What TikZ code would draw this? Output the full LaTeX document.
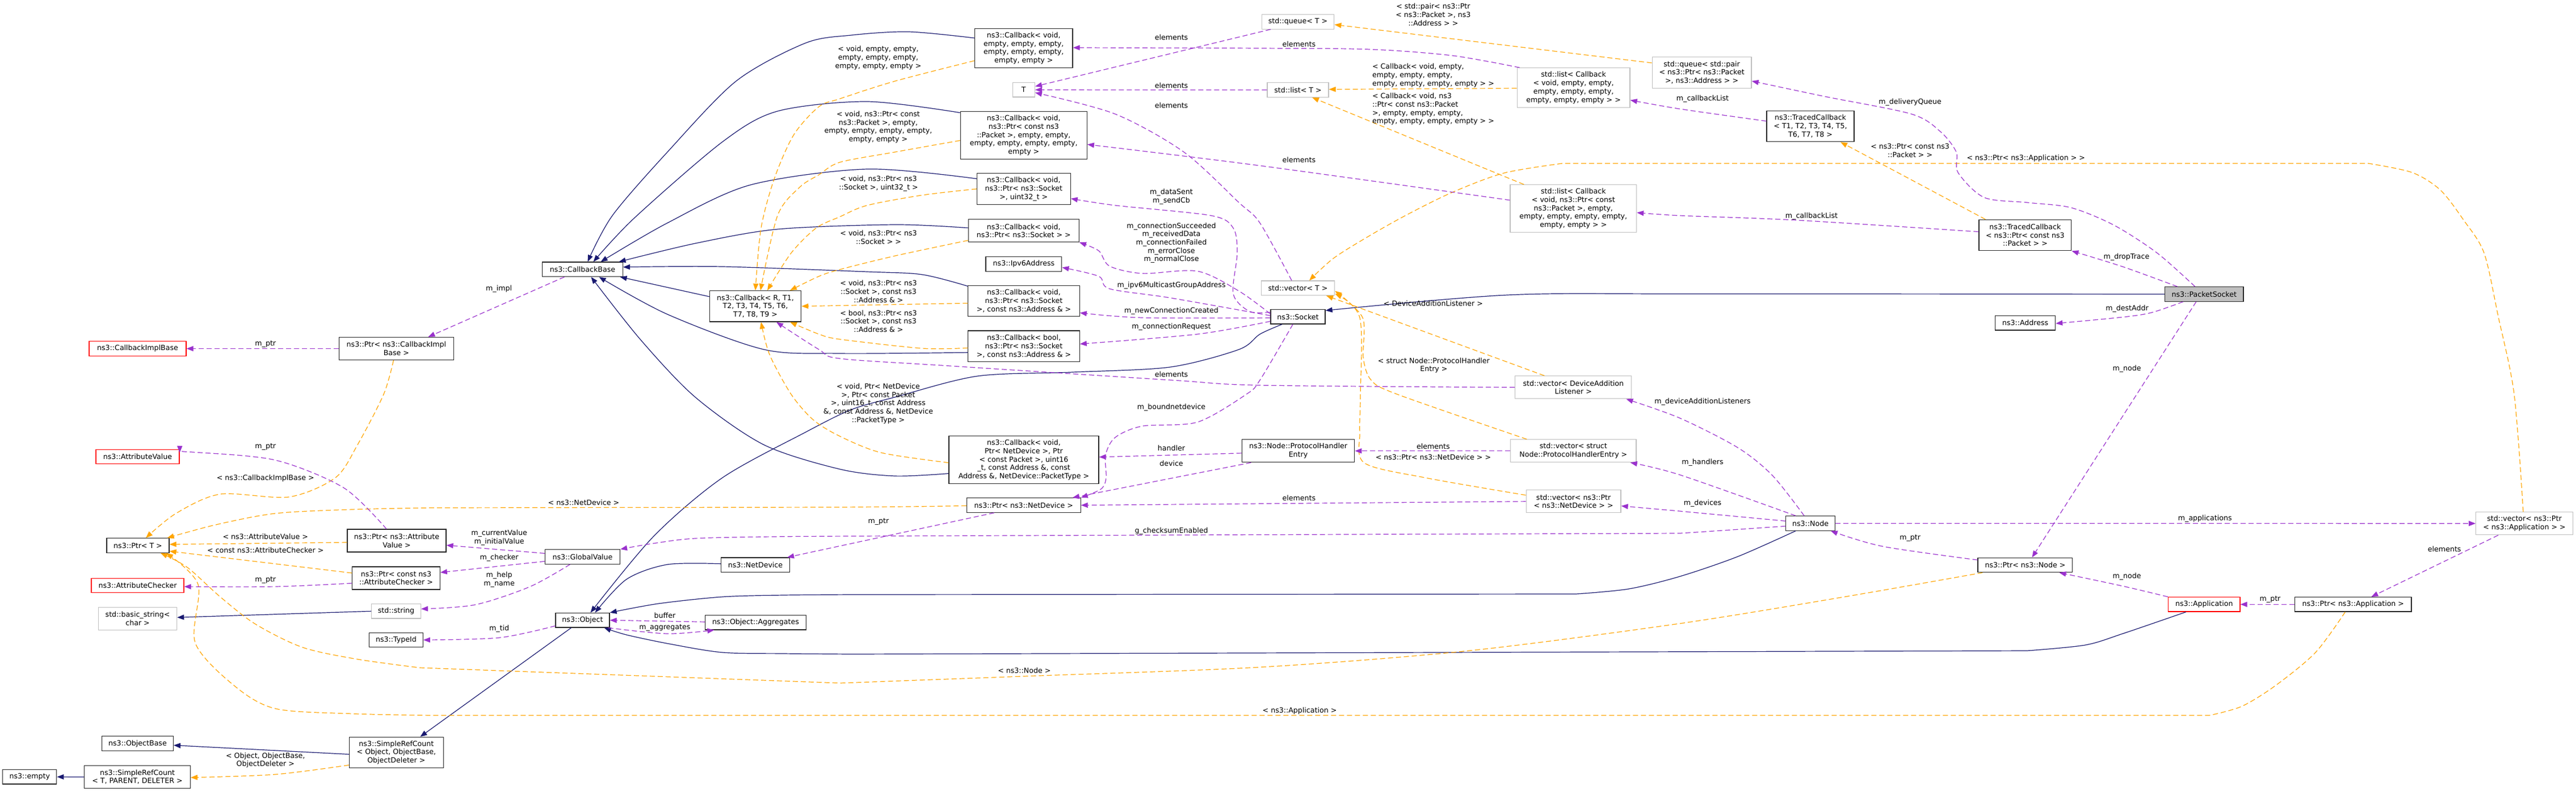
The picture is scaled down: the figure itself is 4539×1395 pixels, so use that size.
\documentclass[tikz,border=0pt]{standalone}
\usepackage{fontspec}
\setmainfont{DejaVu Sans}
\usetikzlibrary{arrows.meta}
\definecolor{inhc}{HTML}{191970}
\definecolor{usec}{HTML}{9A32CD}
\definecolor{tplc}{HTML}{FFA500}
\definecolor{grayb}{HTML}{BFBFBF}
\newcommand\dfont{\fontsize{12.6}{14.7}\selectfont}
\tikzset{
 base/.style={inner xsep=4pt, inner ysep=2pt, align=center, font=\dfont, fill=white, line width=1.2pt},
 cls/.style={base, draw=black!85},
 ext/.style={base, draw=grayb},
 trunc/.style={base, draw=red},
 focus/.style={base, draw=black!85, fill=grayb},
 tipA/.style={-{Triangle[length=12pt,width=9pt]}},
 inh/.style={draw=inhc, line width=1.2pt, tipA},
 use/.style={draw=usec, line width=1.2pt, dash pattern=on 9pt off 5pt, tipA},
 tpl/.style={draw=tplc, line width=1.2pt, dash pattern=on 9pt off 5pt, tipA},
 lab/.style={font=\dfont, align=center, inner sep=0pt},
 sm/.style={smooth, tension=0.5},
}
\begin{document}
\begin{tikzpicture}[x=1pt,y=-1pt]
\fill[white] (0,0) rectangle (4539,1395);
\useasboundingbox (0,0) rectangle (4539,1395);

% ---------- nodes ----------
\node[trunc, minimum width=171, minimum height=25.5] (cib) at (242.5,614.5) {ns3::CallbackImplBase};
\node[cls, minimum width=202, minimum height=40] (pcib) at (698.4,614.5) {ns3::Ptr< ns3::CallbackImpl\\Base >};
\node[trunc, minimum width=147, minimum height=25.5] (av) at (242.5,805) {ns3::AttributeValue};
\node[cls, minimum width=110, minimum height=25.5] (pt) at (243,961.5) {ns3::Ptr< T >};
\node[trunc, minimum width=163, minimum height=25.5] (ac) at (242.5,1032) {ns3::AttributeChecker};
\node[ext, minimum width=138, minimum height=40] (bstr) at (242.6,1090.3) {std::basic\_string<\\char >};
\node[cls, minimum width=126, minimum height=25.5] (ob) at (242.4,1310.6) {ns3::ObjectBase};
\node[cls, minimum width=95, minimum height=25.5] (empt) at (52.3,1369.3) {ns3::empty};
\node[cls, minimum width=186.6, minimum height=40] (srcT) at (242,1369.5) {ns3::SimpleRefCount\\< T, PARENT, DELETER >};
\node[cls, minimum width=174, minimum height=40] (pav) at (699,953) {ns3::Ptr< ns3::Attribute\\Value >};
\node[cls, minimum width=154.4, minimum height=40] (pac) at (698,1019) {ns3::Ptr< const ns3\\::AttributeChecker >};
\node[ext, minimum width=86.7, minimum height=25.5] (str) at (698,1077.3) {std::string};
\node[cls, minimum width=94.5, minimum height=25.5] (tid) at (698,1128) {ns3::TypeId};
\node[cls, minimum width=165.6, minimum height=54.5] (srcO) at (698.4,1326.5) {ns3::SimpleRefCount\\< Object, ObjectBase,\\ObjectDeleter >};
\node[cls, minimum width=141.5, minimum height=25.5] (cbb) at (1026.5,474.8) {ns3::CallbackBase};
\node[cls, minimum width=161.4, minimum height=54.5] (cbR) at (1331,539.8) {ns3::Callback< R, T1,\\T2, T3, T4, T5, T6,\\T7, T8, T9 >};
\node[cls, minimum width=132, minimum height=25.5] (gv) at (1026.5,981.4) {ns3::GlobalValue};
\node[cls, minimum width=95, minimum height=25.5] (obj) at (1026.5,1093.2) {ns3::Object};
\node[cls, minimum width=121, minimum height=25.5] (nd) at (1331,995.7) {ns3::NetDevice};
\node[cls, minimum width=177.4, minimum height=25.5] (agg) at (1331.4,1097.2) {ns3::Object::Aggregates};
\node[cls, minimum width=172.5, minimum height=69.5] (cb0) at (1803.8,85) {ns3::Callback< void,\\empty, empty, empty,\\empty, empty, empty,\\empty, empty >};
\node[ext, minimum width=39, minimum height=25.5] (tT) at (1803.8,158.3) {T};
\node[cls, minimum width=223, minimum height=84] (cbP) at (1803.8,238.6) {ns3::Callback< void,\\ns3::Ptr< const ns3\\::Packet >, empty, empty,\\empty, empty, empty, empty,\\empty >};
\node[cls, minimum width=164.8, minimum height=54.5] (cbSu) at (1803.8,333) {ns3::Callback< void,\\ns3::Ptr< ns3::Socket\\>, uint32\_t >};
\node[cls, minimum width=195, minimum height=40] (cbS) at (1803.8,406.7) {ns3::Callback< void,\\ns3::Ptr< ns3::Socket > >};
\node[cls, minimum width=133.8, minimum height=25.5] (ipv6) at (1803.9,465.4) {ns3::Ipv6Address};
\node[cls, minimum width=196.3, minimum height=54.5] (cbSA) at (1804,530.4) {ns3::Callback< void,\\ns3::Ptr< ns3::Socket\\>, const ns3::Address \& >};
\node[cls, minimum width=196.3, minimum height=54.5] (cbB) at (1804,610.3) {ns3::Callback< bool,\\ns3::Ptr< ns3::Socket\\>, const ns3::Address \& >};
\node[cls, minimum width=264, minimum height=84] (cbND) at (1804,810.6) {ns3::Callback< void,\\Ptr< NetDevice >, Ptr\\< const Packet >, uint16\\\_t, const Address \&, const\\Address \&, NetDevice::PacketType >};
\node[cls, minimum width=200.6, minimum height=25.5] (pnd) at (1803.8,890.5) {ns3::Ptr< ns3::NetDevice >};
\node[ext, minimum width=127.5, minimum height=25.5] (qT) at (2287,38.4) {std::queue< T >};
\node[ext, minimum width=108, minimum height=25.5] (lT) at (2287,158.5) {std::list< T >};
\node[ext, minimum width=129.4, minimum height=25.5] (vT) at (2287,507.8) {std::vector< T >};
\node[cls, minimum width=96, minimum height=25.5] (sock) at (2287,558.3) {ns3::Socket};
\node[cls, minimum width=198.5, minimum height=40] (phe) at (2287.5,794.8) {ns3::Node::ProtocolHandler\\Entry};
\node[ext, minimum width=198.8, minimum height=69.5] (lcb0) at (2772.6,154.5) {std::list< Callback\\< void, empty, empty,\\empty, empty, empty,\\empty, empty, empty > >};
\node[ext, minimum width=222.5, minimum height=84] (lcbP) at (2772.3,367.8) {std::list< Callback\\< void, ns3::Ptr< const\\ns3::Packet >, empty,\\empty, empty, empty, empty,\\empty, empty > >};
\node[ext, minimum width=205, minimum height=40] (vdal) at (2772.3,682.8) {std::vector< DeviceAddition\\Listener >};
\node[ext, minimum width=221.5, minimum height=40] (vphe) at (2772.3,794.8) {std::vector< struct\\Node::ProtocolHandlerEntry >};
\node[ext, minimum width=166.8, minimum height=40] (vpnd) at (2772.6,883.8) {std::vector< ns3::Ptr\\< ns3::NetDevice > >};
\node[ext, minimum width=174.8, minimum height=54.5] (qpair) at (2998.6,127.9) {std::queue< std::pair\\< ns3::Ptr< ns3::Packet\\>, ns3::Address > >};
\node[cls, minimum width=154, minimum height=54.5] (tcb) at (3190,222.5) {ns3::TracedCallback\\< T1, T2, T3, T4, T5,\\T6, T7, T8 >};
\node[cls, minimum width=86.3, minimum height=25.5] (nnode) at (3190,922.4) {ns3::Node};
\node[cls, minimum width=162.8, minimum height=54.5] (tcbP) at (3568.4,414.5) {ns3::TracedCallback\\< ns3::Ptr< const ns3\\::Packet > >};
\node[cls, minimum width=106, minimum height=25.5] (addr) at (3568.6,569.2) {ns3::Address};
\node[cls, minimum width=166.8, minimum height=25.5] (pnode) at (3568.4,996) {ns3::Ptr< ns3::Node >};
\node[focus, minimum width=138.6, minimum height=25.5] (ps) at (3883.7,518.5) {ns3::PacketSocket};
\node[trunc, minimum width=126.4, minimum height=25.5] (app) at (3883.7,1065.3) {ns3::Application};
\node[cls, minimum width=205.3, minimum height=25.5] (papp) at (4146.3,1065.3) {ns3::Ptr< ns3::Application >};
\node[ext, minimum width=170.7, minimum height=40] (vapp) at (4448,922.7) {std::vector< ns3::Ptr\\< ns3::Application > >};

% ---------- inheritance ----------
\draw[inh] (srcT.west) -- (empt.east);
\draw[inh] ([yshift=-3]srcO.west) -- ([yshift=-3]ob.east);
\draw[inh] ([xshift=-20]obj.south) -- ([xshift=42]srcO.north);
\draw[inh] (str.west) -- ([yshift=2]bstr.east);
\draw[inh] plot[sm] coordinates {([yshift=18]cb0.west) (1601,56) (1500,62) (1419,76) (1297,143) (1176,268) (1079,380) ([xshift=9]cbb.north)};
\draw[inh] plot[sm] coordinates {([yshift=40]cbP.west) (1528,179) (1370,196) (1273,250) (1118,384) ([xshift=19]cbb.north)};
\draw[inh] plot[sm] coordinates {([yshift=18]cbSu.west) (1528,298) (1322,326) (1176,393) ([xshift=32]cbb.north)};
\draw[inh] plot[sm] coordinates {([yshift=5]cbS.west) (1577,396) (1370,404) (1225,429) ([xshift=64]cbb.north)};
\draw[inh] plot[sm] coordinates {([yshift=26]cbSA.west) (1625,484) (1528,479) (1273,470) ([yshift=4]cbb.east)};
\draw[inh] ([yshift=17]cbR.west) -- ([xshift=66]cbb.south);
\draw[inh] plot[sm] coordinates {([yshift=-11]cbB.west) (1480,623) (1346,616) (1176,554) ([xshift=29]cbb.south)};
\draw[inh] plot[sm] coordinates {([yshift=-24]cbND.west) (1577,839) (1480,827) (1346,784) (1225,700) (1128,598) ([xshift=15]cbb.south)};
\draw[inh] plot[sm] coordinates {([xshift=-28]sock.south) (2220,589) (2183,616) (2062,647) (1890,656) (1722,663) (1577,700) (1500,722) (1419,762) (1273,842) (1152,945) ([xshift=14]obj.north)};
\draw[inh] plot[sm] coordinates {([yshift=2]nd.west) (1176,995) (1104,1021) ([xshift=22]obj.north)};
\draw[inh] plot[sm] coordinates {([xshift=-26]nnode.south) (3062,981) (2960,1016) (2870,1038) (2777,1047)} -- plot[sm] coordinates {(1500,1048) (1380,1049) (1273,1052) (1160,1064) (obj.north east)};
\draw[inh] plot[sm] coordinates {([xshift=-32]app.south) (3740,1117) (3674,1137) (3572,1147)} -- plot[sm] coordinates {(1500,1153) (1380,1152) (1273,1150) (1180,1135) (1104,1119) ([xshift=38]obj.south)};
\draw[inh] plot[sm] coordinates {(ps.west) (2980,518) (2656,520) ([yshift=11]sock.east)};

% ---------- template instances ----------
\draw[tpl] plot[sm] coordinates {([xshift=-5]pcib.south) (676,695) (630,784) (591,842) (509,876) (388,871) (310,905) ([xshift=14]pt.north)};
\draw[tpl] ([yshift=-3]pav.west) -- ([yshift=2]pt.east);
\draw[tpl] ([yshift=9]pac.west) -- ([yshift=-10]pt.east);
\draw[tpl] plot[sm] coordinates {([yshift=-1]pnd.west) (1600,893) (1480,894)} -- plot[sm] coordinates {(760,895) (620,898) (485,905) (380,925) ([xshift=-4]pt.north east)};
\draw[tpl] plot[sm] coordinates {([xshift=-75]pnode.south) (3250,1052) (2960,1099) (2588,1147) (2220,1176) (1804,1192) (1480,1204)} -- plot[sm] coordinates {(740,1177) (630,1162) (533,1141) (450,1100) (388,1052) (330,1000) ([xshift=40]pt.south)};
\draw[tpl] plot[sm] coordinates {([xshift=-14]papp.south) (4080,1150) (4010,1208) (3950,1245) (3893,1261)} -- plot[sm] coordinates {(760,1261) (620,1258) (485,1249) (412,1208) (344,1133) (349,1030) ([xshift=50]pt.south)};
\draw[tpl] plot[sm] coordinates {([yshift=-22]srcO.west) (485,1365) ([yshift=-1]srcT.east)};
\draw[tpl] plot[sm] coordinates {([yshift=-22]cb0.west) (1577,143) (1480,174) (1443,188) (1399,237) (1365,313) (1341,402) (cbR.north)};
\draw[tpl] plot[sm] coordinates {([yshift=-9]cbP.west) (1577,268) (1480,286) (1443,308) (1409,330) (1370,380) ([xshift=9]cbR.north)};
\draw[tpl] plot[sm] coordinates {(cbSu.west) (1625,344) (1528,362) (1480,382) (1438,402) (1394,446) ([xshift=21]cbR.north)};
\draw[tpl] plot[sm] coordinates {([yshift=-17]cbS.west) (1577,451) (1480,475) (1443,487) ([xshift=61]cbR.north)};
\draw[tpl] ([yshift=-4]cbSA.west) -- (cbR.east);
\draw[tpl] plot[sm] coordinates {([yshift=-3]cbB.west) (1625,614) (1480,598) (1443,589) ([xshift=61]cbR.south)};
\draw[tpl] plot[sm] coordinates {([yshift=-5]cbND.west) (1553,798) (1480,769) (1433,740) (1394,695) (1356,625) ([xshift=10]cbR.south)};
\draw[tpl] ([yshift=-1]lcb0.west) -- ([yshift=1]lT.east);
\draw[tpl] ([xshift=-87]lcbP.north) -- ([xshift=25]lT.south);
\draw[tpl] ([yshift=17]qpair.west) -- ([yshift=-5]qT.east);
\draw[tpl] ([xshift=-70]tcbP.north) -- ([xshift=53]tcb.south);
\draw[tpl] ([xshift=-51]vdal.north) -- ([xshift=50]vT.south);
\draw[tpl] plot[sm] coordinates {([xshift=-82]vphe.north) (2462,695) (2416,670) (2402,630) (2401,560) ([yshift=-5]vT.east)};
\draw[tpl] plot[sm] coordinates {([yshift=11]vpnd.west) (2511,842) (2404,816) (2396,762) (2397,700) (2396,560) ([yshift=-10]vT.east)};
\draw[tpl] plot[sm] coordinates {([xshift=-2]vapp.north) (4430,695) (4402,558) (4377,446) (4341,388) (4300,335) (4250,304) (4173,288)} -- plot[sm] coordinates {(2753,288) (2650,305) (2559,339) (2480,378) (2414,415) (2350,455) ([xshift=20]vT.north)};

% ---------- members ----------
\draw[use] (pcib.west) -- (cib.east);
\draw[use] ([xshift=-32]cbb.south) -- ([xshift=56]pcib.north);
\draw[use] plot[sm] coordinates {([xshift=-18]pav.north) (606,860) (485,811) (340,797) ([yshift=7]av.east)};
\draw[use] plot[sm] coordinates {([yshift=-9]pac.west) (485,1034) ([yshift=-2]ac.east)};
\draw[use] ([yshift=6]gv.west) -- ([yshift=-8]pav.east);
\draw[use] ([yshift=-8]gv.west) -- ([yshift=10]pac.east);
\draw[use] plot[sm] coordinates {([xshift=-22]gv.south) (934,1034) (837,1066) ([yshift=4]str.east)};
\draw[use] plot[sm] coordinates {([yshift=-10]obj.west) (880,1124) (tid.east)};
\draw[use] ([yshift=1]agg.west) -- (obj.east);
\draw[use] plot[sm] coordinates {([xshift=-3]obj.south east) (1176,1117) ([xshift=-73]agg.south)};
\draw[use] ([xshift=-52]pnd.south) -- ([xshift=-5]nd.north east);
\draw[use] plot[sm] coordinates {([yshift=-5]nnode.west) (3050,934) (2960,940)} -- plot[sm] coordinates {(1500,945) (1360,946) (1225,949) (1150,958) (gv.north east)};
\draw[use] plot[sm] coordinates {([xshift=-9]sock.south) (2220,670) (2196,695) (2110,744) (2013,751) (1965,771) (1948,802) (1949,842) (1940,862) (pnd.north east)};
\draw[use] ([yshift=-4]phe.west) -- ([yshift=5]cbND.east);
\draw[use] ([xshift=-83]phe.south) -- ([xshift=86]pnd.north);
\draw[use] (vpnd.west) -- (pnd.east);
\draw[use] (vphe.west) -- (phe.east);
\draw[use] plot[sm] coordinates {(vdal.west) (2220,679) (2064,670) (1674,645) (1480,632) (1443,616) ([xshift=37]cbR.south)};
\draw[use] plot[sm] coordinates {([xshift=-95]lcb0.north) (2559,98) (2414,87) (2220,85) ([yshift=1]cb0.east)};
\draw[use] ([xshift=-48]qT.south) -- ([yshift=6]tT.east);
\draw[use] (lT.west) -- (tT.east);
\draw[use] plot[sm] coordinates {([xshift=-11]vT.north) (2220,393) (2183,357) (2086,268) (1965,201) ([yshift=-5]tT.east)};
\draw[use] plot[sm] coordinates {([yshift=15]lcbP.west) (2220,292) ([yshift=-16]cbP.east)};
\draw[use] plot[sm] coordinates {([yshift=8]sock.west) (2202,549) (2173,518) (2180,446) (2173,402) (2134,380) (1965,362) ([yshift=-17]cbSu.east)};
\draw[use] plot[sm] coordinates {([yshift=5]sock.west) (2183,513) (2110,478) (2013,482) (1955,469) (1936,442) (cbS.south east)};
\draw[use] plot[sm] coordinates {([yshift=2]sock.west) (2062,525) (1955,509) (1936,487) ([yshift=-6]ipv6.east)};
\draw[use] plot[sm] coordinates {([yshift=-2]sock.west) (2013,560) ([yshift=-21]cbSA.east)};
\draw[use] plot[sm] coordinates {([yshift=-8]sock.west) (2110,589) ([yshift=4]cbB.east)};
\draw[use] plot[sm] coordinates {([yshift=9]tcb.west) (2960,192) ([yshift=-22]lcb0.east)};
\draw[use] plot[sm] coordinates {([yshift=6]tcbP.west) (3164,388) (2960,380) ([yshift=-7]lcbP.east)};
\draw[use] plot[sm] coordinates {([xshift=-16]ps.north) (3801,446) (3725,397) (3649,366) (3572,357) (3496,348) (3450,304) (3447,268) (3419,232) (3368,201) (3215,170) ([yshift=-15]qpair.east)};
\draw[use] plot[sm] coordinates {([xshift=-47]ps.north) (3740,470) (tcbP.south east)};
\draw[use] plot[sm] coordinates {([xshift=-37]ps.south) (3791,551) (3740,559) ([yshift=-1]addr.east)};
\draw[use] ([xshift=-14]ps.south) -- ([xshift=12]pnode.north);
\draw[use] plot[sm] coordinates {([xshift=-11]nnode.north) (3123,838) (3062,789) (2960,737) ([xshift=-10]vdal.south east)};
\draw[use] plot[sm] coordinates {([xshift=-26]nnode.north) (2960,837) ([xshift=-11]vphe.south east)};
\draw[use] plot[sm] coordinates {([yshift=4]nnode.west) (2960,901) ([yshift=-8]vpnd.east)};
\draw[use] (nnode.east) -- (vapp.west);
\draw[use] plot[sm] coordinates {([yshift=9]pnode.west) (3317,963) ([xshift=-8]nnode.south east)};
\draw[use] plot[sm] coordinates {(app.north west) (3740,1033) ([xshift=60]pnode.south)};
\draw[use] (papp.west) -- (app.east);
\draw[use] ([xshift=-46]vapp.south) -- ([xshift=32]papp.north);

% ---------- labels ----------
\node[lab] (l1) at (467.8,606.3) {m\_ptr};
\node[lab] (l2) at (879.1,508.9) {m\_impl};
\node[lab] (l3) at (467.8,787.9) {m\_ptr};
\node[lab] (l4) at (467.8,843.2) {< ns3::CallbackImplBase >};
\node[lab] (l5) at (467.8,945.9) {< ns3::AttributeValue >};
\node[lab] (l6) at (467.8,969.6) {< const ns3::AttributeChecker >};
\node[lab] (l7) at (467.8,1022.2) {m\_ptr};
\node[lab] (l8) at (467.8,1340) {< Object, ObjectBase,\\ObjectDeleter >};
\node[lab] (l9) at (1028.4,886) {< ns3::NetDevice >};
\node[lab] (l10) at (879.6,947.9) {m\_currentValue\\m\_initialValue};
\node[lab] (l11) at (879.6,983.4) {m\_checker};
\node[lab] (l12) at (879.6,1021.5) {m\_help\\m\_name};
\node[lab] (l13) at (879.6,1108.4) {m\_tid};
\node[lab] (l14) at (1171.4,1084.3) {buffer};
\node[lab] (l15) at (1171.4,1106.2) {m\_aggregates};
\node[lab] (l16) at (1547.5,102) {< void, empty, empty,\\empty, empty, empty,\\empty, empty, empty >};
\node[lab] (l17) at (1547.4,224.1) {< void, ns3::Ptr< const\\ns3::Packet >, empty,\\empty, empty, empty, empty,\\empty, empty >};
\node[lab] (l18) at (1548,324) {< void, ns3::Ptr< ns3\\::Socket >, uint32\_t >};
\node[lab] (l19) at (1548,418.6) {< void, ns3::Ptr< ns3\\::Socket > >};
\node[lab] (l20) at (1548,513.8) {< void, ns3::Ptr< ns3\\::Socket >, const ns3\\::Address \& >};
\node[lab] (l21) at (1548,566) {< bool, ns3::Ptr< ns3\\::Socket >, const ns3\\::Address \& >};
\node[lab] (l22) at (1547.5,711.3) {< void, Ptr< NetDevice\\>, Ptr< const Packet\\>, uint16\_t, const Address\\\&, const Address \&, NetDevice\\::PacketType >};
\node[lab] (l23) at (1547.9,919.6) {m\_ptr};
\node[lab] (l24) at (1804.8,1181.6) {< ns3::Node >};
\node[lab] (l25) at (2064,66.1) {elements};
\node[lab] (l26) at (2064,150.4) {elements};
\node[lab] (l27) at (2064,186.2) {elements};
\node[lab] (l28) at (2064,346.7) {m\_dataSent\\m\_sendCb};
\node[lab] (l29) at (2064,428.2) {m\_connectionSucceeded\\m\_receivedData\\m\_connectionFailed\\m\_errorClose\\m\_normalClose};
\node[lab] (l30) at (2064,503.6) {m\_ipv6MulticastGroupAddress};
\node[lab] (l31) at (2064,548.2) {m\_newConnectionCreated};
\node[lab] (l32) at (2064,575.9) {m\_connectionRequest};
\node[lab] (l33) at (2064,659.8) {elements};
\node[lab] (l34) at (2064,718.2) {m\_boundnetdevice};
\node[lab] (l35) at (2064,790) {handler};
\node[lab] (l36) at (2064,816.4) {device};
\node[lab] (l37) at (2064,936) {g\_checksumEnabled};
\node[lab] (l38) at (2288.8,78.1) {elements};
\node[lab] (l39) at (2288.8,282.1) {elements};
\node[lab] (l40) at (2288.8,878) {elements};
\node[lab] (l41) at (2290,1253) {< ns3::Application >};
\node[lab] (l42) at (2525.4,25.9) {< std::pair< ns3::Ptr\\< ns3::Packet >, ns3\\::Address > >};
\node[lab, align=left] (l43) at (2525.4,133) {< Callback< void, empty,\\empty, empty, empty,\\empty, empty, empty, empty > >};
\node[lab, align=left] (l44) at (2525.4,192.2) {< Callback< void, ns3\\::Ptr< const ns3::Packet\\>, empty, empty, empty,\\empty, empty, empty, empty > >};
\node[lab] (l45) at (2525.4,534.8) {< DeviceAdditionListener >};
\node[lab] (l46) at (2526.4,644) {< struct Node::ProtocolHandler\\Entry >};
\node[lab] (l47) at (2525.4,786.5) {elements};
\node[lab] (l48) at (2525.4,805.7) {< ns3::Ptr< ns3::NetDevice > >};
\node[lab] (l49) at (3000,174) {m\_callbackList};
\node[lab] (l50) at (3000,708.5) {m\_deviceAdditionListeners};
\node[lab] (l51) at (3000,815.5) {m\_handlers};
\node[lab] (l52) at (3000,887.4) {m\_devices};
\node[lab] (l53) at (3365.6,180.4) {m\_deliveryQueue};
\node[lab] (l54) at (3365.6,265.2) {< ns3::Ptr< const ns3\\::Packet > >};
\node[lab] (l55) at (3192,380.8) {m\_callbackList};
\node[lab] (l56) at (3365.6,948.1) {m\_ptr};
\node[lab] (l57) at (3569.7,279.5) {< ns3::Ptr< ns3::Application > >};
\node[lab] (l58) at (3747,453) {m\_dropTrace};
\node[lab] (l59) at (3748,543.7) {m\_destAddr};
\node[lab] (l60) at (3747.5,650.4) {m\_node};
\node[lab] (l61) at (3747.5,1016.4) {m\_node};
\node[lab] (l62) at (3885.2,914.2) {m\_applications};
\node[lab] (l63) at (4000,1056.6) {m\_ptr};
\node[lab] (l64) at (4307.2,967.3) {elements};
\end{tikzpicture}
\end{document}
